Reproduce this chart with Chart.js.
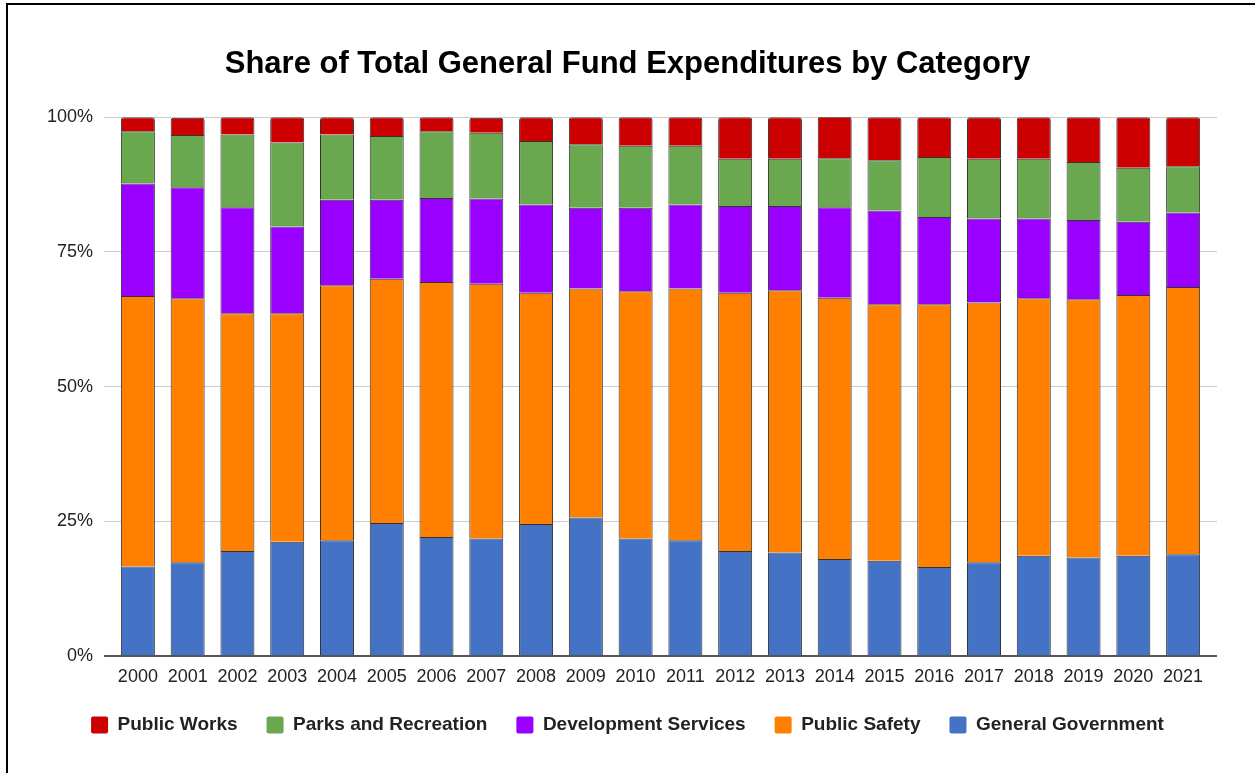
<!DOCTYPE html>
<html>
<head>
<meta charset="utf-8">
<script src="https://cdn.jsdelivr.net/npm/chart.js@4/dist/chart.umd.min.js"></script>
<style>
    html, body { margin: 0; padding: 0; background: #fff; overflow: hidden; }
    #wrap { position: relative; width: 1255px; height: 773px; }
    #frame {
        position: absolute; left: 6px; top: 3px; width: 1400px; height: 900px;
        border-left: 2px solid #000; border-top: 2px solid #000;
        pointer-events: none;
    }
</style>
</head>
<body>
<div id="wrap">
    <canvas id="chart"></canvas>
    <div id="frame"></div>
</div>
<script>
// Data
const years = ["2000", "2001", "2002", "2003", "2004", "2005", "2006", "2007", "2008", "2009", "2010",
    "2011", "2012", "2013", "2014", "2015", "2016", "2017", "2018", "2019", "2020", "2021"];
const generalGovernment = [16.6, 17.4, 19.5, 21.2, 21.5, 24.7, 22.1, 21.8, 24.5, 25.7, 21.8, 21.5, 19.5, 19.2, 18.0, 17.7, 16.5, 17.4, 18.6, 18.3, 18.6, 18.9];
const publicSafety = [50.2, 49.0, 44.1, 42.4, 47.3, 45.3, 47.3, 47.3, 42.9, 42.5, 45.9, 46.7, 47.9, 48.7, 48.5, 47.6, 48.8, 48.2, 47.8, 47.9, 48.4, 49.6];
const developmentServices = [20.9, 20.6, 19.7, 16.1, 15.9, 14.7, 15.6, 15.8, 16.4, 15.0, 15.5, 15.6, 16.1, 15.6, 16.8, 17.4, 16.2, 15.6, 14.8, 14.7, 13.6, 13.8];
const parksRecreation = [9.7, 9.7, 13.5, 15.6, 12.1, 11.8, 12.4, 12.2, 11.8, 11.8, 11.5, 10.9, 8.8, 8.8, 9.1, 9.3, 11.1, 11.1, 11.1, 10.8, 10.0, 8.6];
const publicWorks = [2.6, 3.2, 3.2, 4.7, 3.2, 3.5, 2.6, 2.8, 4.4, 5.0, 5.3, 5.3, 7.7, 7.7, 7.7, 8.0, 7.4, 7.7, 7.7, 8.3, 9.4, 9.1];
const yTicks = [0, 25, 50, 75, 100];

const FONT = "'Liberation Sans', Arial, sans-serif";

const ctx = document.getElementById("chart");

// one dataset per category, bottom of the stack first
function serie(label, values, color) {
    return {
        label: label,
        data: values,
        backgroundColor: color,
        borderColor: "#333",
        borderWidth: 1,
        borderRadius: 3,
        barPercentage: 0.683,
        categoryPercentage: 1,
    };
}

const data = {
    labels: years,
    datasets: [
        serie("General Government", generalGovernment, "#4472c4"),
        serie("Public Safety", publicSafety, "#ff8000"),
        serie("Development Services", developmentServices, "#9900ff"),
        serie("Parks and Recreation", parksRecreation, "#6aa84f"),
        serie("Public Works", publicWorks, "#cc0000"),
    ],
};

// grid colour: dark baseline at 0, light grey elsewhere
const gridColor = (c) => (c.tick && c.tick.value === 0) ? "#555" : "#ccc";
const gridWidth = (c) => (c.tick && c.tick.value === 0) ? 2 : 1;

const config = {
    type: "bar",
    data: data,
    options: {
        responsive: true,
        maintainAspectRatio: false,
        animation: false,
        layout: { padding: { left: 0, right: 0, top: 0, bottom: 28.5 } },
        scales: {
            x: {
                stacked: true,
                z: 1,
                grid: { display: false, drawTicks: false },
                border: { display: true, color: "#555", width: 2 },
                ticks: { color: "#222", font: { family: FONT, size: 18 }, padding: 10, maxRotation: 0, autoSkip: false },
                afterFit: (scale) => { scale.height = 30.5; },
            },
            y: {
                stacked: true,
                min: 0,
                max: 100,
                afterBuildTicks: (scale) => { scale.ticks = yTicks.map(v => ({ value: v })); },
                grid: { color: gridColor, lineWidth: gridWidth, drawTicks: true, tickLength: 9 },
                border: { display: false },
                ticks: { color: "#222", font: { family: FONT, size: 18 }, padding: 11, callback: (v) => v + "%" },
                afterFit: (scale) => { scale.width = 113; },
            },
            // empty right axis: keeps the right margin and extends the grid lines
            y2: {
                position: "right",
                min: 0,
                max: 100,
                afterBuildTicks: (scale) => { scale.ticks = yTicks.map(v => ({ value: v })); },
                grid: { color: gridColor, lineWidth: gridWidth, drawOnChartArea: false, drawTicks: true, tickLength: 9 },
                border: { display: false },
                ticks: { display: false },
                afterFit: (scale) => { scale.width = 47; },
            },
        },
        plugins: {
            title: {
                display: true,
                text: "Share of Total General Fund Expenditures by Category",
                color: "#000",
                font: { family: FONT, size: 31, weight: "bold" },
                padding: { top: 46, bottom: 34 },
            },
            legend: {
                position: "bottom",
                reverse: true,
                onClick: (e) => e.stopPropagation(),
                labels: {
                    boxWidth: 17,
                    boxHeight: 17,
                    padding: 29,
                    color: "#222",
                    font: { family: FONT, size: 19, weight: "bold" },
                    generateLabels: function (chart) {
                        const items = Chart.defaults.plugins.legend.labels.generateLabels(chart);
                        items.forEach((item) => {
                            item.strokeStyle = item.fillStyle;
                            item.lineWidth = 0;
                            item.borderRadius = 2;
                        });
                        return items;
                    },
                    useBorderRadius: true,
                    borderRadius: 2,
                },
            },
            tooltip: { enabled: false },
        },
    },
};

const chart = new Chart(ctx, config);
</script>
</body>
</html>
